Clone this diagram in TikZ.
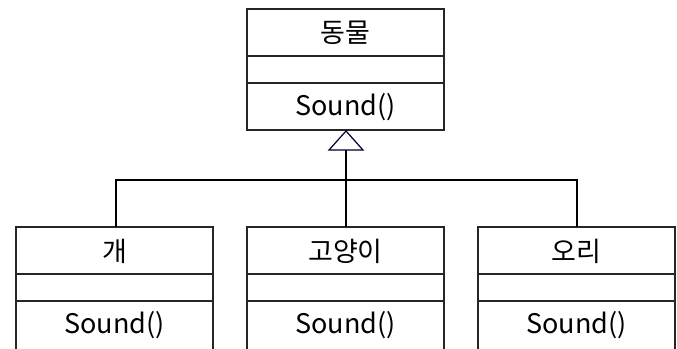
\documentclass[tikz,border=0pt]{standalone}
\usepackage{fontspec}
\setmainfont{Noto Sans CJK KR}
\begin{document}
\begin{tikzpicture}[x=1pt,y=-1pt,
  cls/.style={draw=black!85,line width=1.6pt},
  lbl/.style={font=\fontsize{27}{30}\selectfont,inner sep=0pt,anchor=center},
  conn/.style={draw=black,line width=2.4pt},
  tri/.style={draw=black!70!blue!60!black,line width=1.2pt,fill=white}]
\useasboundingbox (0,0) rectangle (677,348);
\clip (0,0) rectangle (677,348);
% top class
\draw[cls] (247,9) rectangle (444,130);
\draw[cls] (247,56) -- (444,56);
\draw[cls] (247,83) -- (444,83);
\node[lbl] (animal) at (345.5,33) {동물};
\node[lbl] (animalop) at (345.5,107) {Sound()};
% bottom classes
\foreach \l/\n/\t in {16/dog/개, 247/cat/고양이, 478/duck/오리}{
  \draw[cls] (\l,227) rectangle (\l+197,349.6);
  \draw[cls] (\l,274) -- (\l+197,274);
  \draw[cls] (\l,301) -- (\l+197,301);
  \node[lbl] (\n) at (\l+98.5,251) {\t};
  \node[lbl] (\n op) at (\l+98.5,325) {Sound()};
}
\coordinate (tip) at (346,131);
\coordinate (base) at (346,150);
\coordinate (jn) at (346,180);
\coordinate (dl) at (116,180);
\coordinate (dd) at (116,227);
\coordinate (ul) at (577,180);
\coordinate (ud) at (577,227);
\coordinate (cd) at (346,227);
\draw[conn] (dd) -- (dl) -- (ul) -- (ud);
\draw[conn] (cd) -- (base);
\draw[tri] (tip) -- (329,150) -- (363,150) -- cycle;
\end{tikzpicture}
\end{document}
